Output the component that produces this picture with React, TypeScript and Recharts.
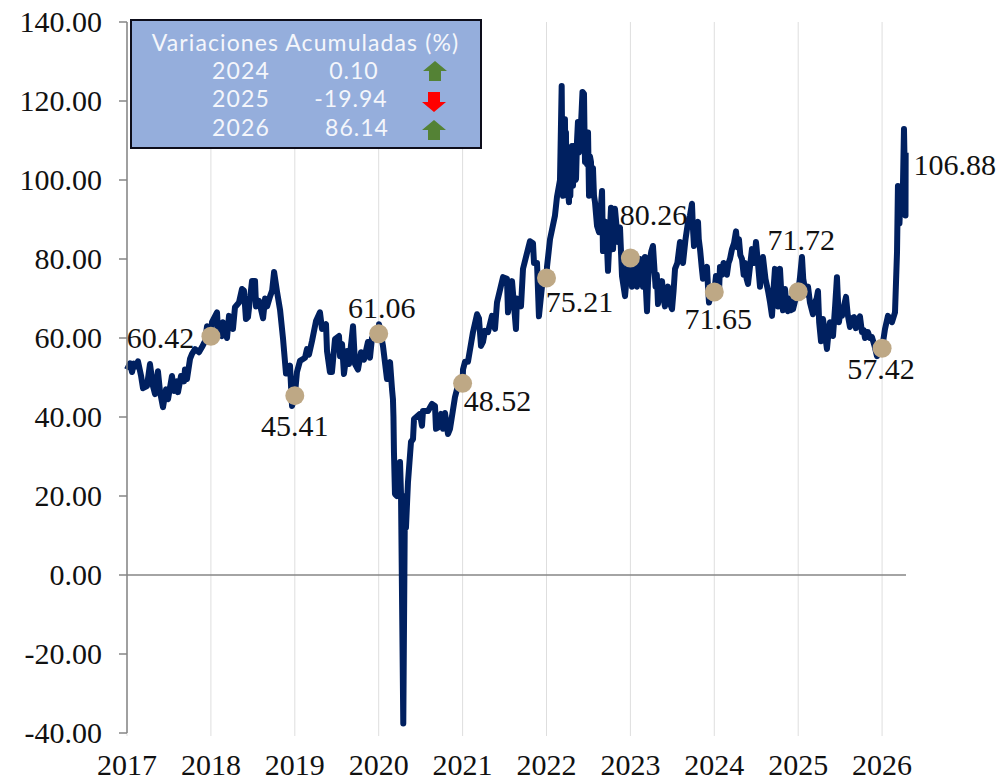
import React from "react";
import { ComposedChart, Line, Scatter, XAxis, YAxis, CartesianGrid, ReferenceLine } from "recharts";

const years2017 = [2017,2017.036,2017.06,2017.083,2017.107,2017.131,2017.167,2017.191,2017.238,2017.274,2017.31,2017.334,2017.369,2017.393,2017.429,2017.465,2017.489,2017.536,2017.56,2017.596,2017.608,2017.644,2017.679,2017.691,2017.715,2017.751,2017.775,2017.811,2017.858,2017.894,2017.93,2017.954,2017.977];
const prices2017 = [52,53.6,51.4,53.5,52.8,54.1,50.5,47.3,47.8,53.4,47.8,45.8,51.6,46.5,42.5,47,44.5,50.4,46.6,49,46.3,50.4,49,52,49.6,54.7,56,57.2,56.4,57.7,59.2,63,59.5];
const years2018 = [2018,2018.013,2018.073,2018.085,2018.132,2018.144,2018.192,2018.216,2018.263,2018.287,2018.335,2018.371,2018.394,2018.418,2018.442,2018.49,2018.526,2018.538,2018.574,2018.622,2018.646,2018.67,2018.706,2018.73,2018.753,2018.789,2018.825,2018.859,2018.895,2018.943,2018.967];
const prices2018 = [60.42,64,66.5,61.7,60.5,64,60,65.6,62.3,67.8,69,72.4,72,64.8,65.3,74.4,74.4,68,69.4,65,70,68,70.6,72,76.7,71.6,67,60,51,53,42.8];
const years2019 = [2019,2019.026,2019.062,2019.122,2019.145,2019.169,2019.205,2019.253,2019.3,2019.324,2019.372,2019.384,2019.419,2019.443,2019.479,2019.527,2019.539,2019.563,2019.586,2019.622,2019.646,2019.694,2019.718,2019.753,2019.789,2019.825,2019.872,2019.896,2019.92,2019.968];
const prices2019 = [45.41,51.4,54.2,55,57.2,55.8,59.2,64.3,66.5,62.3,63.5,56.7,51.4,51.4,59.7,60.5,55.4,58.5,50.9,56.7,53.4,63,53.4,52,56.4,54.5,59,55,60,61.8];
const years2020 = [2020,2020.004,2020.051,2020.099,2020.135,2020.159,2020.17,2020.176,2020.182,2020.194,2020.218,2020.254,2020.266,2020.293,2020.313,2020.325,2020.349,2020.385,2020.409,2020.421,2020.492,2020.516,2020.528,2020.588,2020.635,2020.671,2020.683,2020.719,2020.743,2020.767,2020.79,2020.826,2020.85,2020.909,2020.945];
const prices2020 = [61.06,63.5,58,49.6,53.9,47,44.5,40,31,20.5,20,28.6,20.5,-37.6,20,12,23.5,33.7,34.4,39.5,40.8,37.8,41.5,41.5,43.3,42.8,37,37.5,40.8,37,41,35.7,37,45,48];
const years2021 = [2021,2021.005,2021.029,2021.064,2021.124,2021.172,2021.195,2021.219,2021.243,2021.267,2021.303,2021.35,2021.386,2021.41,2021.482,2021.529,2021.541,2021.589,2021.636,2021.648,2021.696,2021.72,2021.803,2021.839,2021.851,2021.887,2021.91,2021.946];
const prices2021 = [48.52,52,54,54,61.5,66,65,58,59,61.8,61.5,65.6,62.3,69,75.4,75,66.5,74.4,62.3,70,68,77.5,84.5,84,79,79,65.5,73];
const years2022 = [2022,2022.006,2022.042,2022.101,2022.125,2022.161,2022.181,2022.19,2022.197,2022.205,2022.212,2022.22,2022.226,2022.232,2022.238,2022.244,2022.252,2022.26,2022.268,2022.276,2022.284,2022.292,2022.304,2022.31,2022.316,2022.328,2022.34,2022.346,2022.352,2022.364,2022.375,2022.387,2022.399,2022.411,2022.42,2022.429,2022.447,2022.453,2022.459,2022.47,2022.483,2022.495,2022.507,2022.518,2022.53,2022.542,2022.554,2022.566,2022.578,2022.602,2022.626,2022.662,2022.673,2022.709,2022.733,2022.769,2022.793,2022.816,2022.852,2022.876,2022.9,2022.936,2022.971];
const prices2022 = [75.21,78,85,91,95.7,100,123.8,100,96,108,97,115.4,100,112,98,97,108,96,94.4,105,96,104,108.6,99,98.5,106,108.6,100,100.3,110,114.7,107,112,114,118,122.3,121.8,112,104.6,110,104,112,96,106,104.6,97,103,96,94.4,88.4,86.8,97.2,82,89.4,77,93,82.5,92.7,84.3,88,75.7,70.6,79];
const years2023 = [2023,2023.008,2023.019,2023.03,2023.042,2023.055,2023.067,2023.079,2023.09,2023.102,2023.114,2023.126,2023.138,2023.15,2023.162,2023.174,2023.186,2023.198,2023.21,2023.222,2023.234,2023.25,2023.269,2023.285,2023.3,2023.315,2023.329,2023.345,2023.36,2023.377,2023.395,2023.412,2023.43,2023.448,2023.47,2023.496,2023.515,2023.532,2023.56,2023.591,2023.61,2023.627,2023.657,2023.687,2023.71,2023.734,2023.745,2023.758,2023.78,2023.806,2023.815,2023.83,2023.85,2023.865,2023.89,2023.913,2023.925,2023.937,2023.96,2023.98];
const prices2023 = [80.26,76,73,77,74,79,75,73,78,74,80,75,78,73,77,80.5,72,66.8,74,78,80,82,83.3,78,73,76,68.6,72,70,74.4,70,68,71,73,69,67.3,72,77.5,79,84.3,81,79,85,89.4,91,94,88,83.3,87,89.4,85,82.5,78,75,76,78,73,69,71,73];
const years2024 = [2024,2024.02,2024.038,2024.056,2024.068,2024.09,2024.11,2024.128,2024.15,2024.17,2024.187,2024.211,2024.235,2024.259,2024.275,2024.294,2024.31,2024.33,2024.35,2024.366,2024.385,2024.402,2024.425,2024.449,2024.475,2024.497,2024.52,2024.545,2024.56,2024.58,2024.61,2024.64,2024.665,2024.688,2024.705,2024.723,2024.74,2024.759,2024.77,2024.783,2024.8,2024.819,2024.83,2024.843,2024.86,2024.878,2024.895,2024.91,2024.938,2024.97];
const prices2024 = [71.65,75.7,73,71.6,78,76,79,78.5,76,79,80,82.5,84,87,83,85,81,80,76,79,75,73.7,78,82.5,79,84.3,79,73,77,80.5,75,72,69,65.6,72,77.5,72,68,73,77.5,71,67,70,72.4,68,66.8,70,67,67.3,70];
const years2025 = [2025,2025.02,2025.045,2025.06,2025.081,2025.1,2025.117,2025.14,2025.176,2025.2,2025.22,2025.236,2025.25,2025.272,2025.296,2025.32,2025.343,2025.36,2025.379,2025.4,2025.415,2025.44,2025.462,2025.475,2025.486,2025.505,2025.522,2025.545,2025.57,2025.59,2025.617,2025.64,2025.665,2025.688,2025.71,2025.736,2025.76,2025.78,2025.796,2025.815,2025.831,2025.855,2025.879,2025.91,2025.939,2025.97];
const prices2025 = [71.72,75,80.5,75,72.4,71,73,69,66,69,70,71.9,64,59.2,64.8,61,57.2,61,64,62,60.5,68,75.4,69,64,67,65.6,68,70.4,66,62.8,65,65.3,62.5,64,65.5,61.5,62,60,61.5,61.5,60,60.2,58,55.4,58];
const years2026 = [2026,2026.035,2026.07,2026.118,2026.154,2026.178,2026.189,2026.207,2026.225,2026.243,2026.261,2026.279,2026.281];
const prices2026 = [57.42,62.3,65.6,64,66.5,81.8,98.5,89,98,92,112.9,91,106.88];

const allYears = [...years2017,...years2018,...years2019,...years2020,...years2021,...years2022,...years2023,...years2024,...years2025,...years2026];
const allPrices = [...prices2017,...prices2018,...prices2019,...prices2020,...prices2021,...prices2022,...prices2023,...prices2024,...prices2025,...prices2026];
const priceRows = allYears.map((year, i) => ({ year, price: allPrices[i] }));

const markerYears = [2018,2019,2020,2021,2022,2023,2024,2025,2026,2026.281];
const markerValues = [60.42,45.41,61.06,48.52,75.21,80.26,71.65,71.72,57.42,106.88];
const markerRows = markerYears.map((year, i) => ({ year, price: markerValues[i] }));
// label centre offsets from the marker, in px
const labelDx = [-50.5,0,3,35,33,23,4,3,-1,49];
const labelDy = [1,29.5,-26,17,23.5,-43,26.5,-52,20,12];

const xTicks = [2017,2018,2019,2020,2021,2022,2023,2024,2025,2026];
const yTicks = [-40,-20,0,20,40,60,80,100,120,140];

const boxTitle = "Variaciones Acumuladas (%)";
const boxYears = ["2024","2025","2026"];
const boxChanges = ["0.10","-19.94","86.14"];

const SERIF = "'Liberation Serif', serif";
const SANS = "Lato, sans-serif";
const INK = "#111111";
const AXIS = "#868686";

function Marker(props: any) {
  const { cx, cy, index } = props;
  const isLast = index === markerValues.length - 1;
  return (
    <g>
      {!isLast && <circle cx={cx} cy={cy} r={9.5} fill="#BEA885" />}
      <text x={cx + labelDx[index]} y={cy + labelDy[index]} textAnchor="middle" dominantBaseline="central"
        fontFamily={SERIF} fontSize={30} fill={INK}>
        {markerValues[index].toFixed(2)}
      </text>
    </g>
  );
}

function Arrow({ x, y, up }: { x: number; y: number; up: boolean }) {
  const pts = up
    ? `${x},${y + 10} ${x + 12},${y} ${x + 24},${y + 10} ${x + 18},${y + 10} ${x + 18},${y + 20} ${x + 6},${y + 20} ${x + 6},${y + 10}`
    : `${x},${y + 10} ${x + 6},${y + 10} ${x + 6},${y} ${x + 18},${y} ${x + 18},${y + 10} ${x + 24},${y + 10} ${x + 12},${y + 20}`;
  return <polygon points={pts} fill={up ? "#548235" : "#FF0000"} />;
}

function InfoBox() {
  const rowY = [70, 98, 127];
  const valueX = [354, 351, 357];
  const arrowY = [61, 92, 120];
  return (
    <svg width={999} height={781} style={{ position: "absolute", left: 0, top: 0, pointerEvents: "none" }}>
      <rect x={131} y={20} width={350} height={128} fill="#95AEDC" stroke="#0D0D1A" strokeWidth={2} />
      <text x={305.5} y={42} textAnchor="middle" dominantBaseline="central" fontFamily={SANS} fontSize={23} letterSpacing={1.1} fill="#F4F6FB">{boxTitle}</text>
      {boxYears.map((yr, i) => (
        <g key={yr}>
          <text x={241} y={rowY[i]} textAnchor="middle" dominantBaseline="central" fontFamily={SANS} fontSize={23} letterSpacing={1.2} fill="#F4F6FB">{yr}</text>
          <text x={valueX[i]} y={rowY[i]} textAnchor="middle" dominantBaseline="central" fontFamily={SANS} fontSize={23} letterSpacing={1} fill="#F4F6FB">{boxChanges[i]}</text>
          <Arrow x={i === 0 ? 423 : 422} y={arrowY[i]} up={boxChanges[i][0] !== "-"} />
        </g>
      ))}
    </svg>
  );
}

export default function App() {
  return (
    <div style={{ position: "absolute", left: 0, top: 0, width: 999, height: 781, background: "#fff" }}>
      <ComposedChart width={999} height={781} data={priceRows} margin={{ top: 22, right: 93, bottom: 0, left: 0 }}>
        <CartesianGrid horizontal={false} vertical syncWithTicks stroke="#DEDEDE" strokeWidth={1} />
        <XAxis dataKey="year" type="number" domain={[2017, 2026.285]} ticks={xTicks}
          tickFormatter={(v: number) => String(v)} axisLine={false} tickLine={{ stroke: "#DEDEDE" }} tickSize={3}
          tickMargin={18} height={48} interval={0}
          tick={{ fontFamily: SERIF, fontSize: 30, fill: INK }} />
        <YAxis dataKey="price" type="number" domain={[-40, 140]} ticks={yTicks} width={127} interval={0}
          tickFormatter={(v: number) => v.toFixed(2)} axisLine={{ stroke: AXIS, strokeWidth: 1.5 }}
          tickLine={{ stroke: AXIS, strokeWidth: 1.5 }} tickSize={8} tickMargin={17}
          tick={{ fontFamily: SERIF, fontSize: 30, fill: INK, dy: -1 }} />
        <ReferenceLine y={0} stroke={AXIS} strokeWidth={1.5} />
        <Line dataKey="price" type="linear" stroke="#002060" strokeWidth={6} dot={false} activeDot={false}
          strokeLinejoin="round" strokeLinecap="butt" isAnimationActive={false} />
        <Scatter data={markerRows} dataKey="price" shape={<Marker />} isAnimationActive={false} />
      </ComposedChart>
      <InfoBox />
    </div>
  );
}
